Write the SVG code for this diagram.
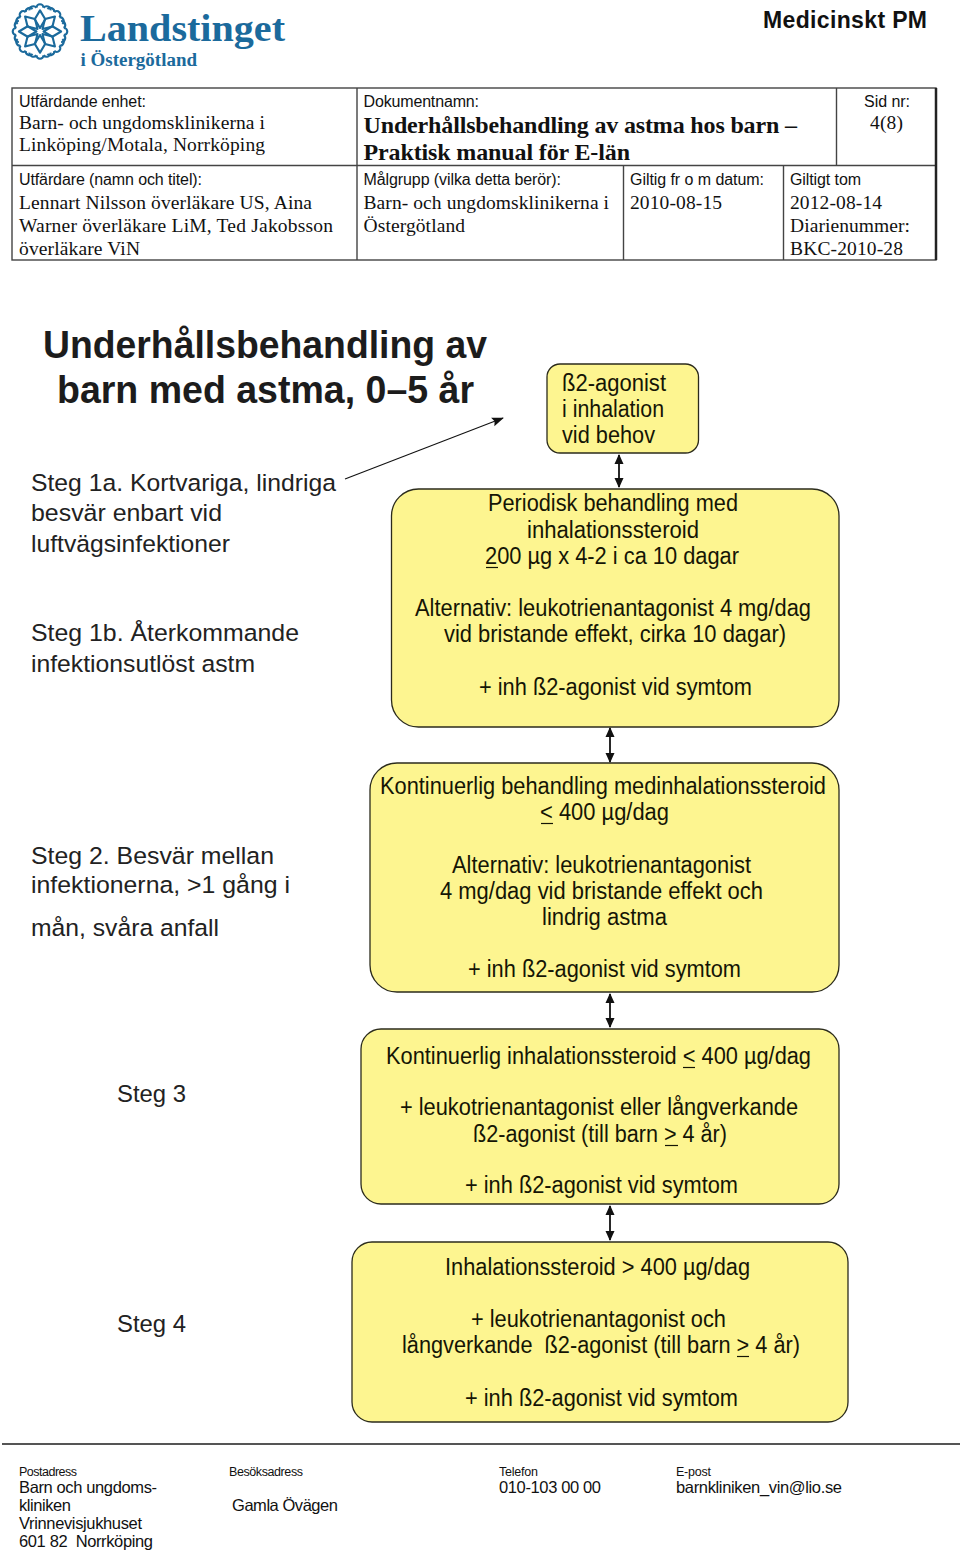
<svg xmlns="http://www.w3.org/2000/svg" xmlns:xlink="http://www.w3.org/1999/xlink" width="960" height="1552" viewBox="0 0 960 1552">
<style>
text{fill:#111}
.s{font-family:"Liberation Sans",Arial,sans-serif}
.t{font-family:"Liberation Serif","Times New Roman",serif}
.lab{font-size:16px}
.val{font-size:19.5px}
.ttl{font-size:24px;font-weight:700}
.b{font-family:"Liberation Sans",Arial,sans-serif;font-size:23px;fill:#151505}
.l{font-family:"Liberation Sans",Arial,sans-serif;font-size:24.5px;fill:#222}
.h{font-family:"Liberation Sans",Arial,sans-serif;font-size:38px;font-weight:700;fill:#1c1c1c}
.f1{font-size:12.5px}
.f2{font-size:16.5px}
.box{fill:#fdf590;stroke:#2b2b1c;stroke-width:1.3}
.grid{stroke:#444;stroke-width:1.4;fill:none}
.c{stroke:#111;stroke-width:1.8;fill:none}
.u{stroke:#151505;stroke-width:1.2;fill:none}
.lg{fill:none;stroke:#1b6a9c;stroke-width:2.4;stroke-linejoin:round}
</style>
<defs>
<marker id="ah" markerUnits="userSpaceOnUse" markerWidth="10" markerHeight="10" refX="9" refY="5" orient="auto-start-reverse"><path d="M0 0.5L10 5L0 9.500Z" fill="#111"/></marker>
<marker id="ah2" markerUnits="userSpaceOnUse" markerWidth="12" markerHeight="10" refX="11" refY="5" orient="auto"><path d="M0 0.500L12 5L0 9.500L2 5Z" fill="#111"/></marker>
<g id="petal"><path class="lg" d="M0 -4L-6 -14L0 -24L6 -14Z"/><path class="lg" d="M-4 -27a4 4 0 0 1 8 0M-12 -24a4.500 4.500 0 0 1 8 -3M4 -27a4.500 4.500 0 0 1 8 3"/></g>
</defs>

<g id="logo">
<g transform="translate(40 31.500) scale(0.88)">
<use xlink:href="#petal"/><use xlink:href="#petal" transform="rotate(45)"/><use xlink:href="#petal" transform="rotate(90)"/><use xlink:href="#petal" transform="rotate(135)"/><use xlink:href="#petal" transform="rotate(180)"/><use xlink:href="#petal" transform="rotate(225)"/><use xlink:href="#petal" transform="rotate(270)"/><use xlink:href="#petal" transform="rotate(315)"/>
</g>
<text class="t" x="80" y="41" textLength="205" lengthAdjust="spacingAndGlyphs" style="font-size:38px;font-weight:700;fill:#1b6a9c">Landstinget</text>
<text class="t" x="80.500" y="66" textLength="116.500" lengthAdjust="spacingAndGlyphs" style="font-size:18px;font-weight:700;fill:#1b6a9c">i Östergötland</text>
</g>
<text id="doctype" class="s" x="763" y="28" textLength="164" style="font-size:23px;font-weight:700">Medicinskt PM</text>

<g id="header-table">
<rect class="grid" x="12" y="88" width="924" height="172"/>
<path class="grid" d="M12 165.500H936M357 88V260M836.500 88V165.500M623.500 165.500V260M783.500 165.500V260"/>
<path d="M936 88V260" stroke="#222" stroke-width="2.500"/>
<text class="s lab" x="19" y="107" textLength="127">Utfärdande enhet:</text>
<text class="t val" x="19" y="129" textLength="246">Barn- och ungdomsklinikerna i</text>
<text class="t val" x="19" y="151" textLength="246">Linköping/Motala, Norrköping</text>
<text class="s lab" x="363.500" y="107" textLength="115.500">Dokumentnamn:</text>
<text class="t ttl" x="363.500" y="133" textLength="433.500">Underhållsbehandling av astma hos barn –</text>
<text class="t ttl" x="363.500" y="160" textLength="266.500">Praktisk manual för E-län</text>
<text class="s lab" x="864" y="107" textLength="46">Sid nr:</text>
<text class="t val" x="870" y="129" textLength="33">4(8)</text>
<text class="s lab" x="19" y="185" textLength="183">Utfärdare (namn och titel):</text>
<text class="t val" x="19" y="209" textLength="293">Lennart Nilsson överläkare US, Aina</text>
<text class="t val" x="19" y="232" textLength="314">Warner överläkare LiM, Ted Jakobsson</text>
<text class="t val" x="19" y="255" textLength="121">överläkare ViN</text>
<text class="s lab" x="363.500" y="185" textLength="197.500">Målgrupp (vilka detta berör):</text>
<text class="t val" x="363.500" y="209" textLength="245.500">Barn- och ungdomsklinikerna i</text>
<text class="t val" x="363.500" y="232" textLength="101.500">Östergötland</text>
<text class="s lab" x="630" y="185" textLength="134">Giltig fr o m datum:</text>
<text class="t val" x="630" y="209" textLength="92">2010-08-15</text>
<text class="s lab" x="790" y="185" textLength="71">Giltigt tom</text>
<text class="t val" x="790" y="209" textLength="92">2012-08-14</text>
<text class="t val" x="790" y="232" textLength="120">Diarienummer:</text>
<text class="t val" x="790" y="255" textLength="113">BKC-2010-28</text>
</g>

<g id="heading">
<text class="h" x="43" y="358" textLength="444" lengthAdjust="spacingAndGlyphs">Underhållsbehandling av</text>
<text class="h" x="57" y="403" textLength="417" lengthAdjust="spacingAndGlyphs">barn med astma, 0–5 år</text>
</g>

<g id="steps">
<text class="l" x="31" y="491" textLength="305" lengthAdjust="spacingAndGlyphs">Steg 1a. Kortvariga, lindriga</text>
<text class="l" x="31" y="521" textLength="191" lengthAdjust="spacingAndGlyphs">besvär enbart vid</text>
<text class="l" x="31" y="552" textLength="199" lengthAdjust="spacingAndGlyphs">luftvägsinfektioner</text>
<text class="l" x="31" y="641" textLength="268" lengthAdjust="spacingAndGlyphs">Steg 1b. Återkommande</text>
<text class="l" x="31" y="672" textLength="224" lengthAdjust="spacingAndGlyphs">infektionsutlöst astm</text>
<text class="l" x="31" y="864" textLength="243" lengthAdjust="spacingAndGlyphs">Steg 2. Besvär mellan</text>
<text class="l" x="31" y="893" textLength="259" lengthAdjust="spacingAndGlyphs">infektionerna, &gt;1 gång i</text>
<text class="l" x="31" y="936" textLength="188" lengthAdjust="spacingAndGlyphs">mån, svåra anfall</text>
<text class="l" x="117" y="1102" textLength="69" lengthAdjust="spacingAndGlyphs">Steg 3</text>
<text class="l" x="117" y="1332" textLength="69" lengthAdjust="spacingAndGlyphs">Steg 4</text>
</g>

<g id="node-agonist">
<rect class="box" x="547" y="364" width="151.500" height="89" rx="13"/>
<text class="b" x="562" y="391" textLength="104" lengthAdjust="spacingAndGlyphs">ß2-agonist</text>
<text class="b" x="562" y="417" textLength="102" lengthAdjust="spacingAndGlyphs">i inhalation</text>
<text class="b" x="562" y="443" textLength="93" lengthAdjust="spacingAndGlyphs">vid behov</text>
</g>
<g id="node-periodisk">
<rect class="box" x="391.500" y="489" width="447.500" height="238" rx="27"/>
<text class="b" x="488" y="511" textLength="250" lengthAdjust="spacingAndGlyphs">Periodisk behandling med</text>
<text class="b" x="527" y="538" textLength="172" lengthAdjust="spacingAndGlyphs">inhalationssteroid</text>
<text class="b" x="485" y="564" textLength="254" lengthAdjust="spacingAndGlyphs">200 µg x 4-2 i ca 10 dagar</text>
<path class="u" d="M486 567.500H498"/>
<text class="b" x="415" y="616" textLength="396" lengthAdjust="spacingAndGlyphs">Alternativ: leukotrienantagonist 4 mg/dag</text>
<text class="b" x="444" y="642" textLength="342" lengthAdjust="spacingAndGlyphs">vid bristande effekt, cirka 10 dagar)</text>
<text class="b" x="479" y="695" textLength="273" lengthAdjust="spacingAndGlyphs">+ inh ß2-agonist vid symtom</text>
</g>
<g id="node-kontinuerlig">
<rect class="box" x="370" y="763" width="469" height="229" rx="27"/>
<text class="b" x="380" y="794" textLength="446" lengthAdjust="spacingAndGlyphs">Kontinuerlig behandling medinhalationssteroid</text>
<text class="b" x="540" y="820" textLength="129" lengthAdjust="spacingAndGlyphs">&lt; 400 µg/dag</text>
<path class="u" d="M541 823.500H553"/>
<text class="b" x="452" y="873" textLength="299" lengthAdjust="spacingAndGlyphs">Alternativ: leukotrienantagonist</text>
<text class="b" x="440" y="899" textLength="323" lengthAdjust="spacingAndGlyphs">4 mg/dag vid bristande effekt och</text>
<text class="b" x="542" y="925" textLength="125" lengthAdjust="spacingAndGlyphs">lindrig astma</text>
<text class="b" x="468" y="977" textLength="273" lengthAdjust="spacingAndGlyphs">+ inh ß2-agonist vid symtom</text>
</g>
<g id="node-steg3">
<rect class="box" x="361" y="1029" width="478" height="175" rx="20"/>
<text class="b" x="386" y="1064" textLength="425" lengthAdjust="spacingAndGlyphs">Kontinuerlig inhalationssteroid &lt; 400 µg/dag</text>
<path class="u" d="M683 1067.500H695"/>
<text class="b" x="400" y="1115" textLength="398" lengthAdjust="spacingAndGlyphs">+ leukotrienantagonist eller långverkande</text>
<text class="b" x="473" y="1142" textLength="254" lengthAdjust="spacingAndGlyphs">ß2-agonist (till barn &gt; 4 år)</text>
<path class="u" d="M665 1145.500H678"/>
<text class="b" x="465" y="1193" textLength="273" lengthAdjust="spacingAndGlyphs">+ inh ß2-agonist vid symtom</text>
</g>
<g id="node-steg4">
<rect class="box" x="352" y="1242" width="496" height="180" rx="20"/>
<text class="b" x="445" y="1275" textLength="305" lengthAdjust="spacingAndGlyphs">Inhalationssteroid &gt; 400 µg/dag</text>
<text class="b" x="471" y="1327" textLength="255" lengthAdjust="spacingAndGlyphs">+ leukotrienantagonist och</text>
<text class="b" x="402" y="1353" textLength="398" lengthAdjust="spacingAndGlyphs">långverkande&#160; ß2-agonist (till barn &gt; 4 år)</text>
<path class="u" d="M737 1356.500H749"/>
<text class="b" x="465" y="1406" textLength="273" lengthAdjust="spacingAndGlyphs">+ inh ß2-agonist vid symtom</text>
</g>

<g id="connectors">
<path class="c" d="M345 479L503 418" style="stroke-width:1.100" marker-end="url(#ah2)"/>
<path class="c" d="M619 455V487" marker-start="url(#ah)" marker-end="url(#ah)"/>
<path class="c" d="M610 728V762" marker-start="url(#ah)" marker-end="url(#ah)"/>
<path class="c" d="M610 994V1027" marker-start="url(#ah)" marker-end="url(#ah)"/>
<path class="c" d="M610 1206V1240" marker-start="url(#ah)" marker-end="url(#ah)"/>
</g>

<g id="footer">
<path d="M2 1444H960" stroke="#555" stroke-width="2"/>
<text class="s f1" x="19" y="1476" textLength="58">Postadress</text>
<text class="s f2" x="19" y="1493" textLength="138">Barn och ungdoms-</text>
<text class="s f2" x="19" y="1511" textLength="52">kliniken</text>
<text class="s f2" x="19" y="1529" textLength="123">Vrinnevisjukhuset</text>
<text class="s f2" x="19" y="1547" textLength="134">601 82&#160; Norrköping</text>
<text class="s f1" x="229" y="1476" textLength="74">Besöksadress</text>
<text class="s f2" x="232" y="1511" textLength="106">Gamla Övägen</text>
<text class="s f1" x="499" y="1476" textLength="39">Telefon</text>
<text class="s f2" x="499" y="1493" textLength="102">010-103 00 00</text>
<text class="s f1" x="676" y="1476" textLength="35">E-post</text>
<text class="s f2" x="676" y="1493" textLength="166">barnkliniken_vin@lio.se</text>
</g>
</svg>
